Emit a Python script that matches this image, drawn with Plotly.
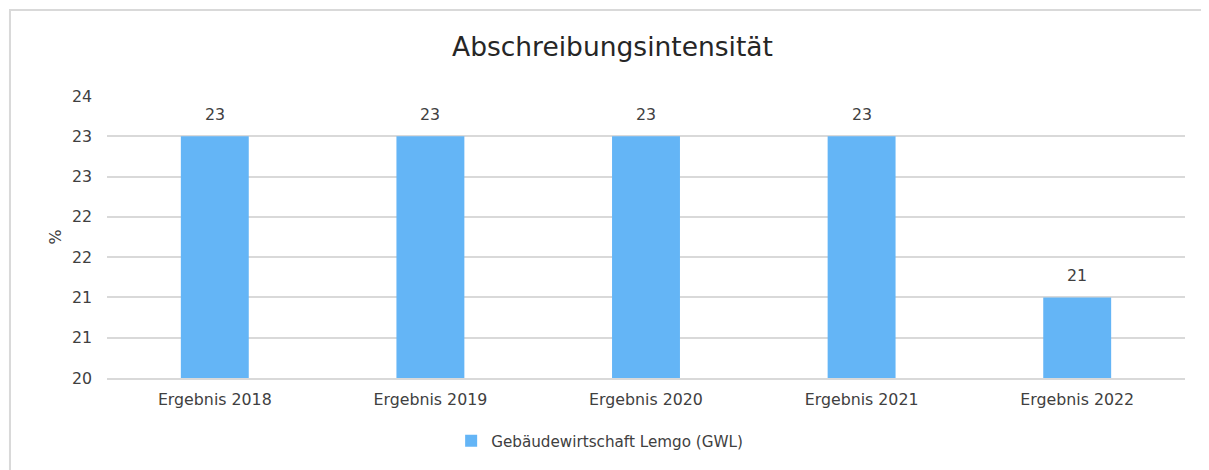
import plotly.graph_objects as go

# chart data
categories = ["Ergebnis 2018", "Ergebnis 2019", "Ergebnis 2020", "Ergebnis 2021", "Ergebnis 2022"]
values = [23.0, 23.0, 23.0, 23.0, 21.0]
series_name = "Gebäudewirtschaft Lemgo (GWL)"
y_tickvals = [20.0, 20.5, 21.0, 21.5, 22.0, 22.5, 23.0, 23.5]
y_ticktext = ["20", "21", "21", "22", "22", "23", "23", "24"]

FONT = "DejaVu Sans, Verdana, sans-serif"
TEXT = "#404040"
GRID = "#D9D9D9"
FS = 15.8

fig = go.Figure()
fig.add_trace(go.Bar(
    x=categories,
    y=values,
    name=series_name,
    marker=dict(color="#64B5F6", line=dict(width=0)),
    width=0.315,
    showlegend=True,
))

# data labels above the bars
for cat, val in zip(categories, values):
    fig.add_annotation(
        x=cat, y=val, text=f"{val:.0f}",
        showarrow=False, yanchor="bottom", yshift=10,
        font=dict(family=FONT, size=FS, color=TEXT),
    )

fig.update_layout(
    width=1209,
    height=470,
    margin=dict(l=99, r=32, t=88, b=100),
    paper_bgcolor="white",
    plot_bgcolor="white",
    font=dict(family=FONT, size=FS, color=TEXT),
    title=dict(
        text="Abschreibungsintensität",
        font=dict(family=FONT, size=26.5, color="#262626"),
        x=0.5, xanchor="center",
        y=0.917, yanchor="middle", yref="container",
    ),
    showlegend=True,
    legend=dict(
        orientation="h",
        x=0.457, xanchor="center",
        y=-0.223, yanchor="middle",
        font=dict(family=FONT, size=15.2, color=TEXT),
        itemwidth=30,
    ),
    xaxis=dict(
        showgrid=False,
        showline=True,
        linecolor=GRID,
        linewidth=2,
        ticks="",
        ticklabelstandoff=6,
        tickfont=dict(family=FONT, size=FS, color=TEXT),
    ),
    yaxis=dict(
        range=[20, 23.5],
        tickvals=y_tickvals,
        ticktext=y_ticktext,
        showgrid=True,
        gridcolor=GRID,
        gridwidth=2,
        zeroline=False,
        showline=False,
        ticks="",
        ticklabelstandoff=14,
        tickfont=dict(family=FONT, size=FS, color=TEXT),
        title=dict(text="%", standoff=6, font=dict(family=FONT, size=FS, color=TEXT)),
    ),
    shapes=[
        dict(
            type="rect", xref="paper", yref="paper",
            x0=-0.090, x1=1.05, y0=-0.5, y1=1.305,
            line=dict(color="#D9D9D9", width=2),
            fillcolor="rgba(0,0,0,0)",
            layer="below",
        )
    ],
)

fig.write_html("out.html")
